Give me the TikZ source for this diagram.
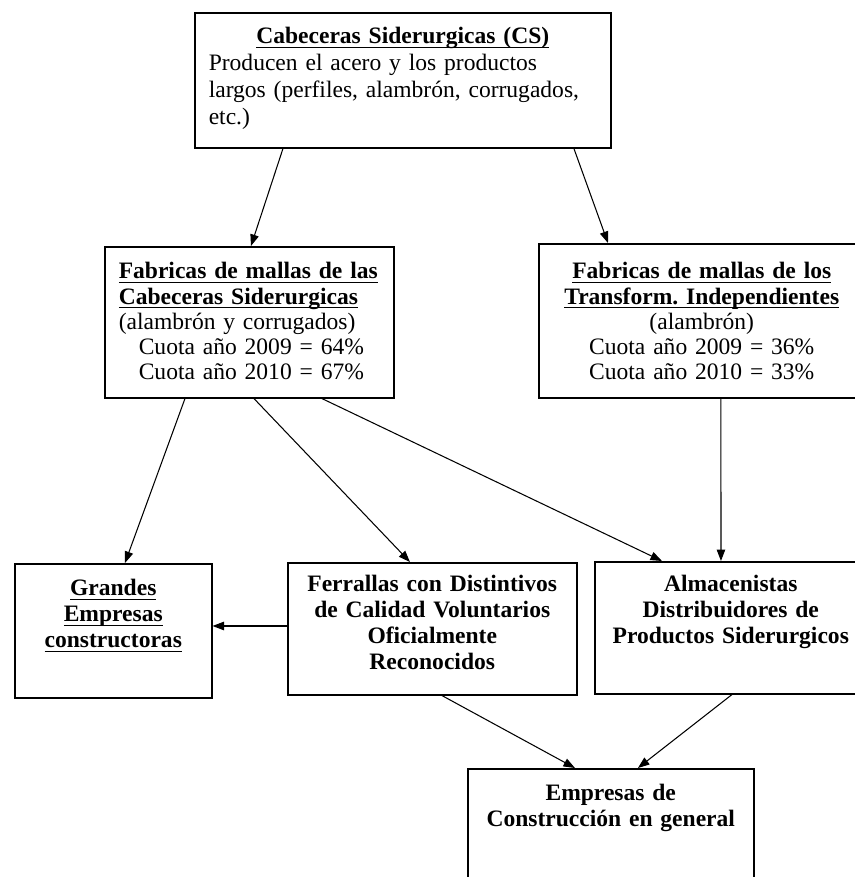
\documentclass[tikz,border=0pt]{standalone}
\usepackage{fontspec}
\setmainfont{Liberation Serif}
\usetikzlibrary{arrows.meta}
\tikzstyle{caja}=[draw=black,line width=0.9pt,anchor=north west,inner ysep=0pt]
\tikzstyle{izq}=[caja,align=left,font=\fontsize{13.4}{14.4}\selectfont]
\tikzstyle{centro}=[caja,align=center,font=\fontsize{13.4}{14.8}\selectfont\bfseries]
\tikzstyle{flecha}=[line width=0.6pt,-{Triangle[length=2.3mm,width=1.7mm]}]
\newcommand{\subr}[1]{\leavevmode\setbox0\hbox{\textbf{#1}}\rlap{\rule[-2.3pt]{\wd0}{0.75pt}}\box0}
\frenchspacing

\begin{document}
\begin{tikzpicture}[x=0.02cm,y=-0.02cm]
    \useasboundingbox (0,0) rectangle (855,877);
    \clip (0,0) rectangle (855,877);
    \node[izq,text width=7.76cm,inner xsep=0.28cm,text height=0.62cm,text depth=2.08cm,
        font=\fontsize{13.4}{15.4}\selectfont] (cs) at (194,12)
        {\hspace*{\fill}\subr{Cabeceras Siderurgicas (CS)}\hspace*{\fill}\mbox{}\\
        Producen el acero y los productos\\
        largos (perfiles, alambrón, corrugados,\\
        etc.)};
    \node[izq,text width=5.22cm,inner xsep=0.28cm,text height=0.64cm,text depth=2.38cm] (mlcs) at (104,246)
        {\subr{Fabricas de mallas de las}\\
        \subr{Cabeceras Siderurgicas}\\
        (alambrón y corrugados)\\
        \hspace*{0.4cm}Cuota año 2009 = 64\%\\
        \hspace*{0.4cm}Cuota año 2010 = 67\%};
    \node[centro,text width=6cm,inner xsep=0.26cm,text height=0.7cm,text depth=2.38cm,
        font=\fontsize{13.4}{14.4}\selectfont] (mltr) at (538,243)
        {\subr{Fabricas de mallas de los}\\
        \subr{Transform. Independientes}\\
        \mdseries (alambrón)\\
        Cuota año 2009 = 36\%\\
        Cuota año 2010 = 33\%};
    \node[centro,text width=3.4cm,inner xsep=0.27cm,text height=0.64cm,text depth=2.04cm] (gran) at (14,563)
        {\subr{Grandes}\\ \subr{Empresas}\\ \subr{constructoras}};
    \node[centro,text width=5.26cm,inner xsep=0.26cm,text height=0.58cm,text depth=2.06cm] (ferr) at (287,562)
        {Ferrallas con Distintivos\\ de Calidad Voluntarios\\ Oficialmente\\ Reconocidos};
    \node[centro,text width=5cm,inner xsep=0.22cm,text height=0.6cm,text depth=2.04cm] (alma) at (594,561)
        {Almacenistas\\ Distribuidores de\\ Productos Siderurgicos};
    \node[centro,text width=5.2cm,inner xsep=0.26cm,text height=0.64cm,text depth=1.8cm] (emp) at (467,768)
        {Empresas de\\ Construcción en general};
    % flechas
    \draw[flecha] ([xshift=1.78cm]cs.south west) -- ([xshift=2.94cm]mlcs.north west);
    \draw[flecha] ([xshift=7.6cm]cs.south west) -- ([xshift=1.4cm]mltr.north west);
    \draw[flecha] ([xshift=1.62cm]mlcs.south west) -- ([xshift=2.22cm]gran.north west);
    \draw[flecha] ([xshift=3cm]mlcs.south west) -- ([xshift=2.46cm]ferr.north west);
    \draw[flecha] ([xshift=4.36cm]mlcs.south west) -- ([xshift=1.36cm]alma.north west);
    \draw[flecha] ([xshift=3.66cm]mltr.south west) -- ([xshift=2.54cm]alma.north west);
    \coordinate (fg) at ([yshift=-1.28cm]ferr.north west);
    \draw[flecha] (fg) -- (fg -| gran.east);
    \draw[flecha] ([xshift=3.1cm]ferr.south west) -- ([xshift=2.16cm]emp.north west);
    \draw[flecha] ([xshift=2.76cm]alma.south west) -- ([xshift=3.42cm]emp.north west);
\end{tikzpicture}
\end{document}
